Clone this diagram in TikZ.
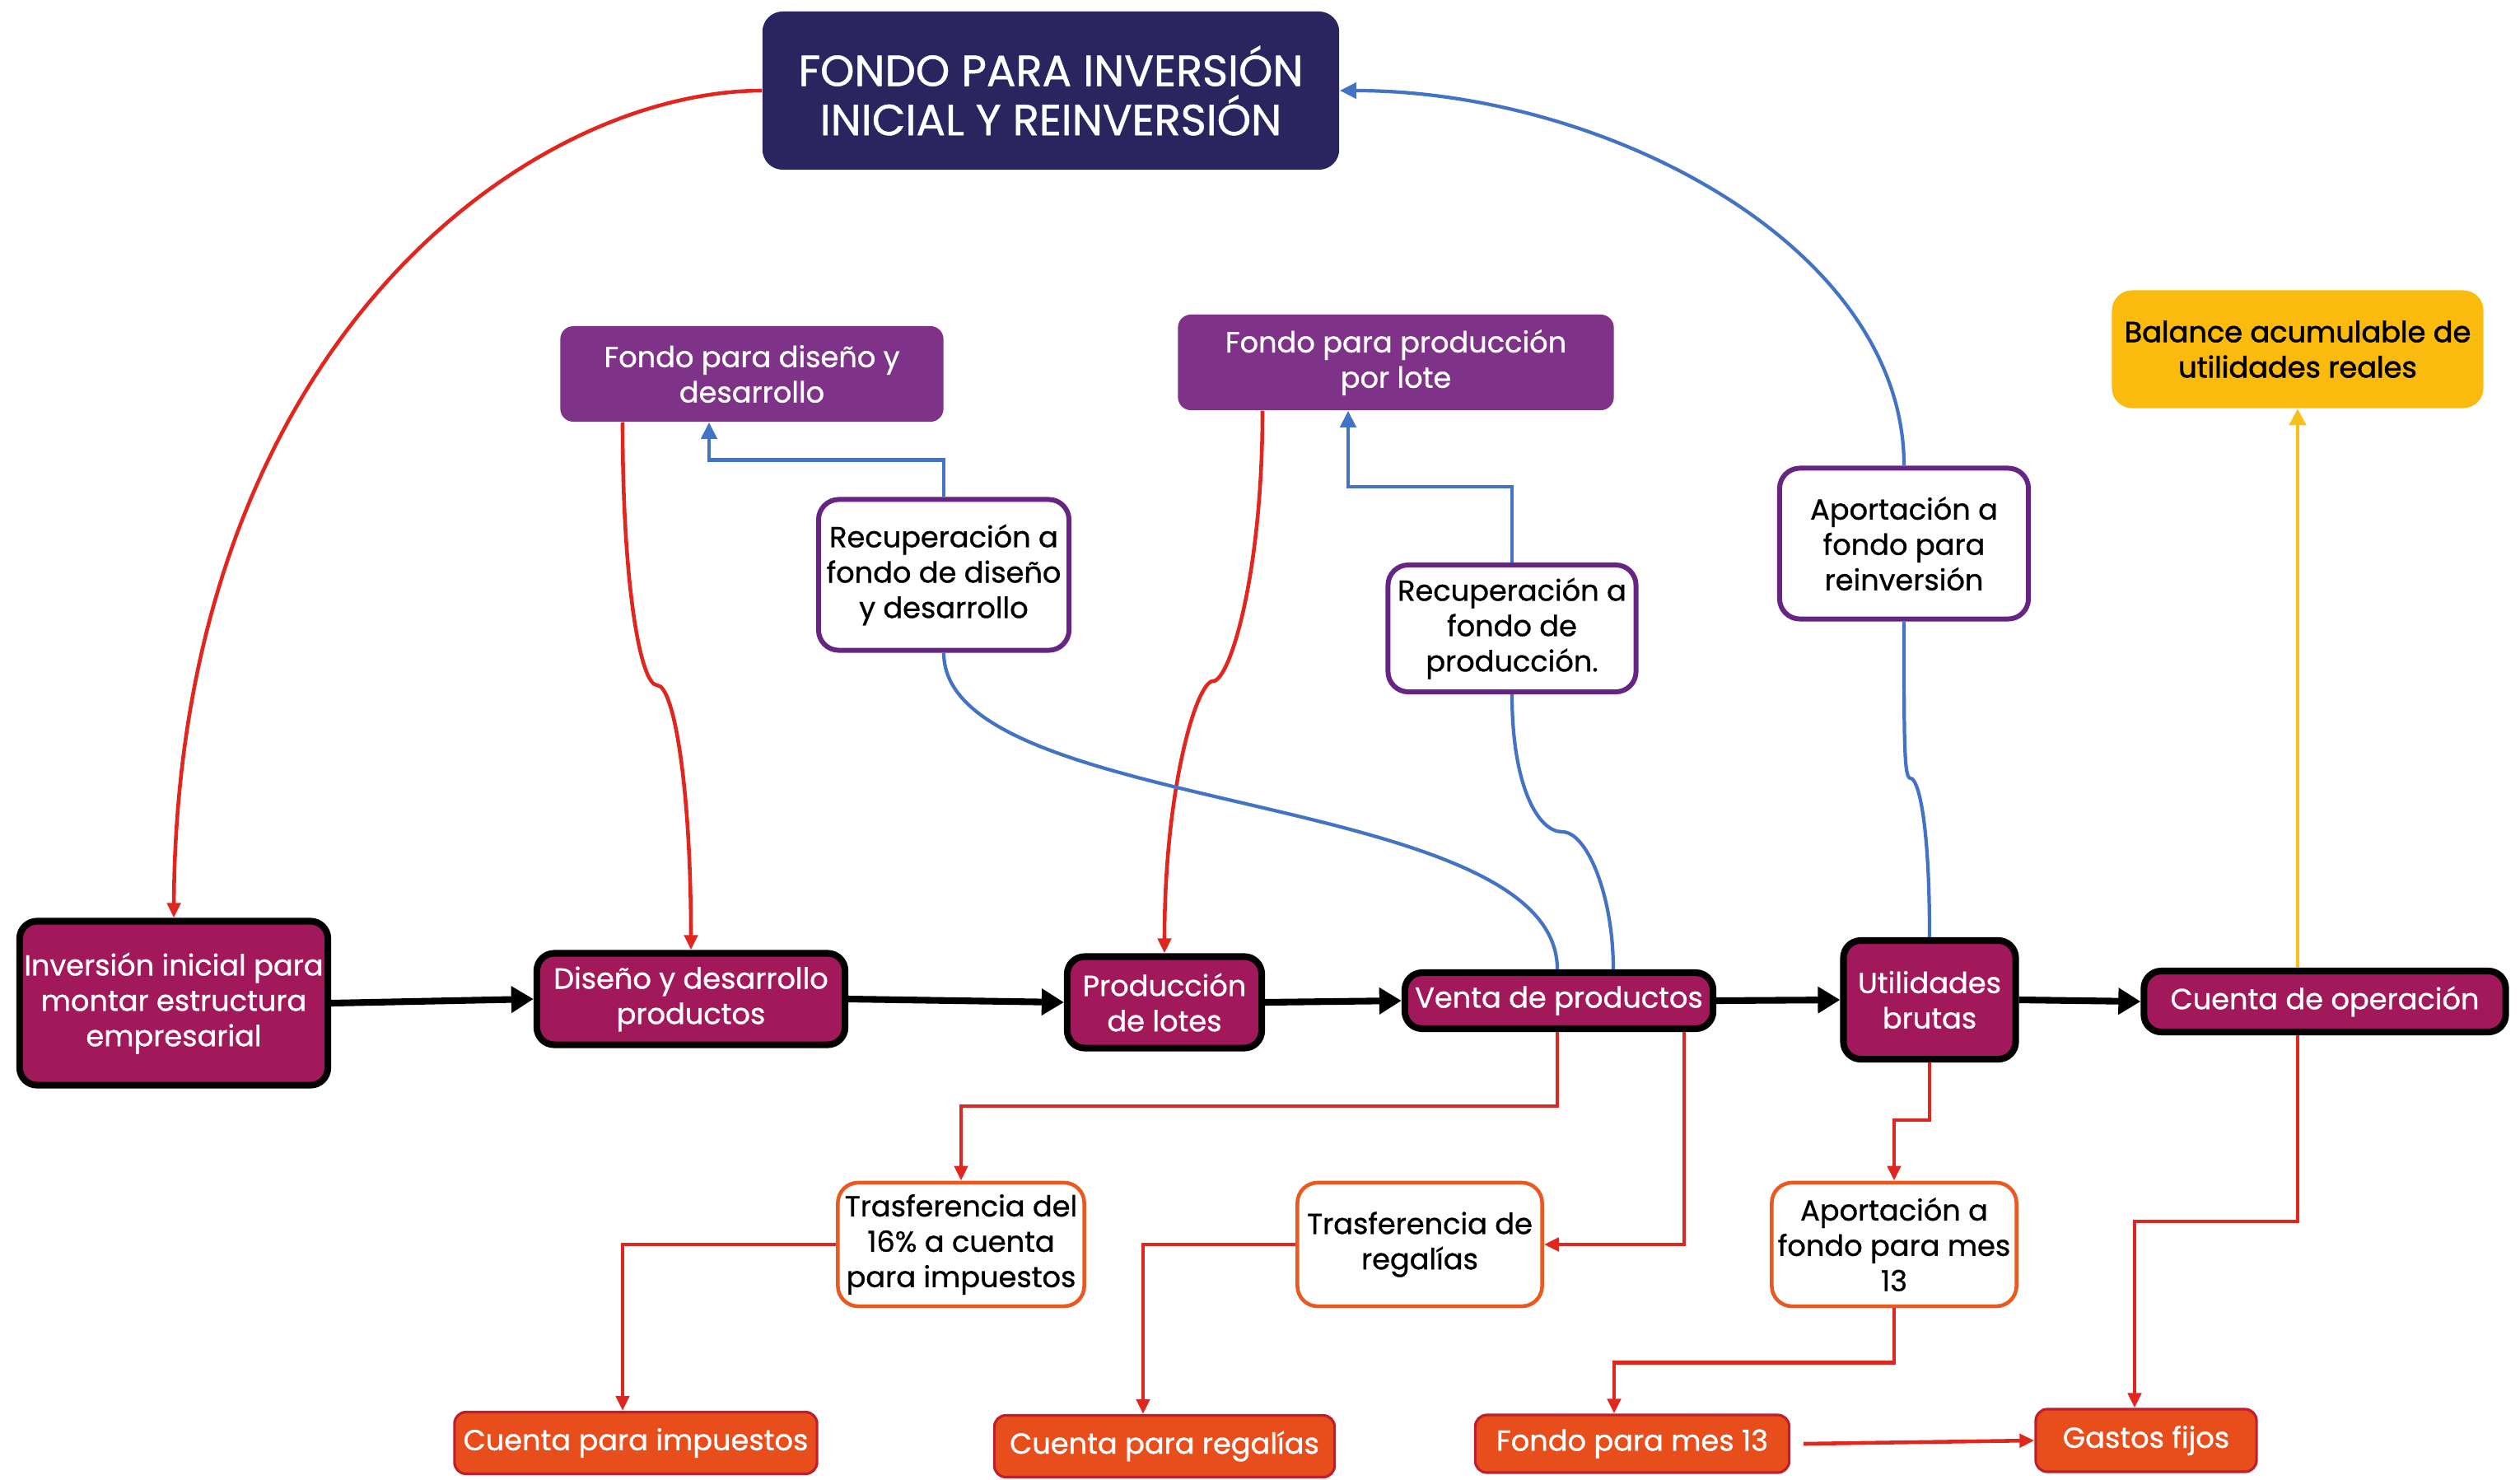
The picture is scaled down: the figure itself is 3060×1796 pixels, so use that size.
\documentclass[tikz,border=0pt]{standalone}
\usepackage{fontspec}
\setmainfont{Poppins}
\newfontfamily\poppinsmedio[FakeBold=0.9]{Poppins}
\newfontfamily\poppinsfuerte[FakeBold=1.8]{Poppins}
\usepackage{tikz}
\usetikzlibrary{arrows.meta,calc}
\definecolor{fondoazul}{HTML}{2A255E}
\definecolor{fondomorado}{HTML}{7F3388}
\definecolor{bordemorado}{HTML}{662483}
\definecolor{procesomagenta}{HTML}{A2195B}
\definecolor{bordenaranja}{HTML}{E85A20}
\definecolor{cuentanaranja}{HTML}{E84E1B}
\definecolor{bordecuenta}{HTML}{BE1E2D}
\definecolor{balanceamarillo}{HTML}{FBBA0E}
\definecolor{linearoja}{HTML}{E0261F}
\definecolor{lineaazul}{HTML}{4472C4}
\definecolor{lineaamarilla}{HTML}{F9BF1A}

\tikzset{
  texto/.style={align=center, inner sep=0pt, font=\poppinsmedio\fontsize{10}{12.2}\selectfont},
  fondoinv/.style={texto, fill=fondoazul, text=white, rounded corners=7pt, font=\poppinsmedio\fontsize{15}{17}\selectfont},
  fondobox/.style={texto, fill=fondomorado, text=white, rounded corners=4.5pt},
  recbox/.style={texto, draw=bordemorado, line width=1.7pt, fill=white, text=black, rounded corners=7pt},
  procbox/.style={texto, draw=black, line width=2.3pt, fill=procesomagenta, text=white, rounded corners=6pt},
  trasbox/.style={texto, draw=bordenaranja, line width=1.3pt, fill=white, text=black, rounded corners=7pt},
  cuentabox/.style={texto, draw=bordecuenta, line width=0.9pt, fill=cuentanaranja, text=white, rounded corners=4pt},
  balbox/.style={texto, fill=balanceamarillo, text=black, rounded corners=7pt, font=\poppinsfuerte\fontsize{10}{12.2}\selectfont},
  flujo/.style={line width=2.3pt, -{Triangle[length=0.27cm,width=0.31cm]}},
  rojo/.style={draw=linearoja, line width=1.3pt, -{Triangle[length=0.18cm,width=0.16cm]}},
  azul/.style={draw=lineaazul, line width=1.2pt, -{Triangle[length=0.2cm,width=0.19cm]}},
  amarillo/.style={draw=lineaamarilla, line width=1.3pt, -{Triangle[length=0.2cm,width=0.2cm]}}
}

\begin{document}
\begin{tikzpicture}[x=0.01cm,y=0.01cm,yscale=-1,xscale=1]
\useasboundingbox (0,0) rectangle (3060,1796);

%Fondo principal
\node[fondoinv, minimum width=7cm, minimum height=1.92cm] (top) at (1276,110) {FONDO PARA INVERSIÓN\\INICIAL Y REINVERSIÓN};

%Fondos
\node[fondobox, minimum width=4.65cm, minimum height=1.16cm] (fdis) at (913,454) {Fondo para diseño y\\desarrollo};
\node[fondobox, minimum width=5.29cm, minimum height=1.16cm] (fprod) at (1695,440) {Fondo para producción\\por lote};
\node[balbox, minimum width=4.51cm, minimum height=1.43cm] (bal) at (2790,424) {Balance acumulable de\\utilidades reales};

%Recuperaciones y aportaciones
\node[recbox, minimum width=3.04cm, minimum height=1.83cm] (rdis) at (1146,698) {Recuperación a\\fondo de diseño\\y desarrollo};
\node[recbox, minimum width=3.01cm, minimum height=1.54cm] (rprod) at (1836,763) {Recuperación a\\fondo de\\producción.};
\node[recbox, minimum width=3.02cm, minimum height=1.83cm] (areinv) at (2312,660) {Aportación a\\fondo para\\reinversión};

%Flowchart: Process
\node[procbox, minimum width=3.74cm, minimum height=1.99cm] (inv) at (211,1218) {Inversión inicial para\\montar estructura\\empresarial};
\node[procbox, minimum width=3.74cm, minimum height=1.11cm] (dis) at (839,1213) {Diseño y desarrollo\\productos};
\node[procbox, minimum width=2.36cm, minimum height=1.11cm] (prod) at (1414,1217) {Producción\\de lotes};
\node[procbox, minimum width=3.74cm, minimum height=0.68cm] (venta) at (1893,1215) {Venta de productos};
\node[procbox, minimum width=2.09cm, minimum height=1.44cm] (util) at (2343,1214) {Utilidades\\brutas};
\node[procbox, minimum width=4.39cm, minimum height=0.74cm] (cop) at (2823,1216) {Cuenta de operación};

%Trasferencias
\node[trasbox, minimum width=2.99cm, minimum height=1.5cm] (t16) at (1167,1511) {Trasferencia del\\16\% a cuenta\\para impuestos};
\node[trasbox, minimum width=2.97cm, minimum height=1.5cm] (treg) at (1724,1511) {Trasferencia de\\regalías};
\node[trasbox, minimum width=2.97cm, minimum height=1.5cm] (ames) at (2300,1511) {Aportación a\\fondo para mes\\13};

%Cuentas
\node[cuentabox, minimum width=4.4cm, minimum height=0.75cm] (cimp) at (772,1752) {Cuenta para impuestos};
\node[cuentabox, minimum width=4.13cm, minimum height=0.75cm] (creg) at (1414,1756) {Cuenta para regalías};
\node[cuentabox, minimum width=3.81cm, minimum height=0.7cm] (fmes) at (1982,1753) {Fondo para mes 13};
\node[cuentabox, minimum width=2.68cm, minimum height=0.76cm] (gast) at (2606,1749) {Gastos fijos};

%Quiebres de curvas
\coordinate (k1) at (798,832);
\coordinate (k2) at (1473,827);
\coordinate (k3) at (1897,1010);
\coordinate (k4) at (2320,945);

%Straight Lines
\draw[flujo] (inv.east) -- (dis.west);
\draw[flujo] (dis.east) -- (prod.west);
\draw[flujo] (prod.east) -- (venta.west);
\draw[flujo] (venta.east) -- (util.west);
\draw[flujo] (util.east) -- (cop.west);

%Curve Lines
\draw[rojo] (top.west) .. controls (640,111) and (215,420) .. (inv.north);
\draw[azul] (areinv.north) .. controls +(0,-266) and +(323,0) .. (top.east);
\draw[rojo] ($(fdis.south)+(-157,0)$) .. controls +(0,200) and +(-20,0) .. (k1) .. controls +(20,0) and +(0,-200) .. (dis.north);
\draw[rojo] ($(fprod.south)+(-162,0)$) .. controls +(0,200) and +(20,0) .. (k2) .. controls +(-20,0) and +(0,-200) .. (prod.north);
\draw[lineaazul, line width=1.2pt] (rdis.south) .. controls +(0,200) and +(0,-220) .. ($(venta.north)+(-2,0)$);
\draw[lineaazul, line width=1.2pt] (rprod.south) .. controls +(0,110) and +(-30,0) .. (k3) .. controls +(30,0) and +(0,-90) .. ($(venta.north)+(66,0)$);
\draw[lineaazul, line width=1.2pt] (areinv.south) .. controls +(0,150) and +(-8,0) .. (k4) .. controls +(8,0) and +(0,-150) .. (util.north);

%Elbow Lines
\draw[azul] (rdis.north) -- ++(0,-45) -| ($(fdis.south)+(-52,0)$);
\draw[azul] (rprod.north) -- ++(0,-92) -| ($(fprod.south)+(-58,0)$);
\draw[amarillo] (cop.north -| bal.south) -- (bal.south);
\draw[rojo] ($(venta.south)+(-2,0)$) -- ++(0,90) -| (t16.north);
\draw[rojo] ($(venta.south)+(152,0)$) |- (treg.east);
\draw[rojo] (util.south) -- ++(0,70) -| (ames.north);
\draw[rojo] (cop.south -| bal.south) -- ++(0,226) -| ($(gast.north)+(-14,0)$);
\draw[rojo] (t16.west) -| ($(cimp.north)+(-16,0)$);
\draw[rojo] (treg.west) -| ($(creg.north)+(-26,0)$);
\draw[rojo] (ames.south) -- ++(0,66) -| ($(fmes.north)+(-22,0)$);
\draw[rojo] ($(fmes.east)+(16,0)$) -- (gast.west);

\end{tikzpicture}
\end{document}
